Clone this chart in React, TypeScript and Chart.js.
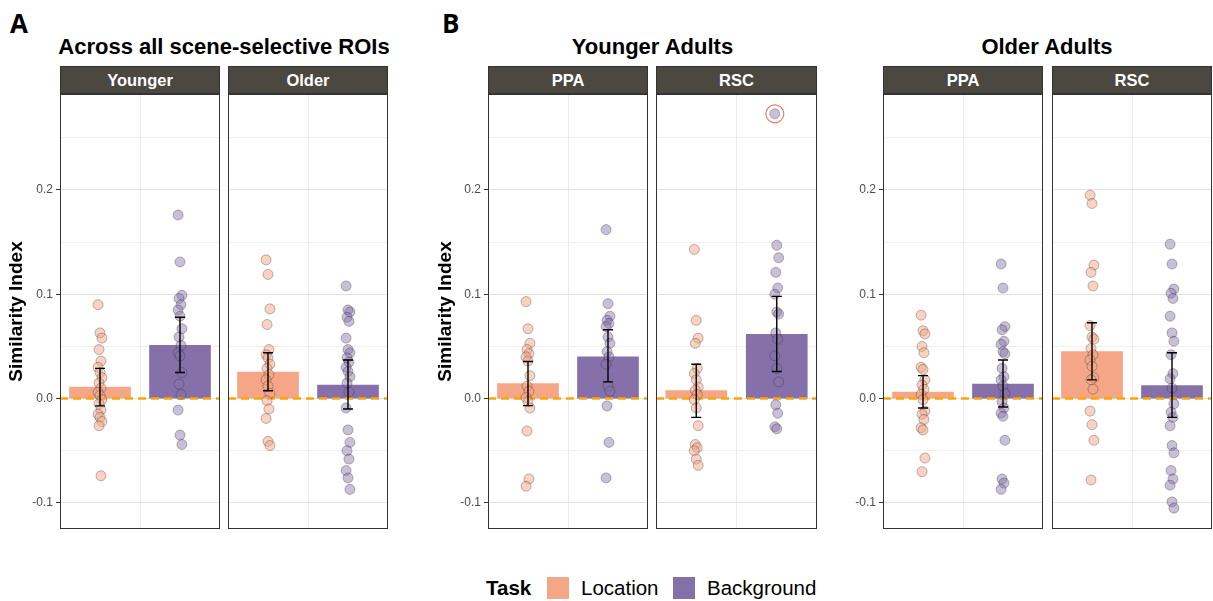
import React, { useEffect, useRef } from "react";
import { Chart, registerables } from "chart.js";

Chart.register(...registerables);

// ---------------- DATA ----------------
const TASKS = ["Location", "Background"];
const LEGEND_TITLE = "Task";
const Y_AXIS_TITLE = "Similarity Index";
const GROUP_TITLES = ["Across all scene-selective ROIs", "Younger Adults", "Older Adults"];
const PANEL_LETTERS = ["A", "B"];
const PANEL_LABELS = ["Younger", "Older", "PPA", "RSC", "PPA", "RSC"];

const Y_GRID_VALUES = [-0.1, -0.05, 0, 0.05, 0.1, 0.15, 0.2, 0.25];
const Y_TICK_LABELS = [-0.1, 0, 0.1, 0.2];

// bar means per panel
const MEAN_LOC = [0.011, 0.0254, 0.0143, 0.0076, 0.0063, 0.045];
const MEAN_BG = [0.051, 0.013, 0.040, 0.0616, 0.014, 0.0124];
// error bar bounds per panel
const LOC_LOW = [-0.007, 0.0076, -0.0067, -0.018, -0.009, 0.018];
const LOC_HIGH = [0.029, 0.044, 0.0356, 0.033, 0.022, 0.0727];
const BG_LOW = [0.025, -0.010, 0.016, 0.026, -0.008, -0.018];
const BG_HIGH = [0.078, 0.037, 0.066, 0.098, 0.037, 0.044];

// individual participants
const A_YOUNG_LOC = [0.090, 0.063, 0.058, 0.047, 0.036, 0.030, 0.025, 0.020, 0.015, 0.010, 0.006, 0.003, -0.001, -0.005, -0.011, -0.015, -0.018, -0.022, -0.026, -0.074];
const A_YOUNG_BG = [0.176, 0.131, 0.099, 0.096, 0.090, 0.085, 0.079, 0.067, 0.059, 0.051, 0.044, 0.041, 0.025, 0.014, 0.004, -0.011, -0.035, -0.044];
const A_OLD_LOC = [0.133, 0.119, 0.086, 0.071, 0.047, 0.042, 0.039, 0.033, 0.029, 0.023, 0.018, 0.012, 0.005, -0.002, -0.010, -0.019, -0.041, -0.045];
const A_OLD_BG = [0.108, 0.085, 0.083, 0.078, 0.074, 0.058, 0.047, 0.044, 0.039, 0.035, 0.030, 0.026, 0.021, 0.015, 0.006, -0.009, -0.030, -0.042, -0.050, -0.058, -0.069, -0.076, -0.087];
const YA_PPA_LOC = [0.093, 0.067, 0.053, 0.047, 0.043, 0.040, 0.036, 0.022, 0.012, 0.007, 0.001, -0.003, -0.009, -0.031, -0.077, -0.084];
const YA_PPA_BG = [0.162, 0.091, 0.079, 0.075, 0.072, 0.069, 0.059, 0.053, 0.045, 0.040, 0.033, 0.012, 0.007, -0.007, -0.042, -0.076];
const YA_RSC_LOC = [0.143, 0.075, 0.058, 0.053, 0.029, 0.024, 0.018, 0.011, 0.008, 0.004, -0.001, -0.009, -0.026, -0.044, -0.047, -0.050, -0.058, -0.064];
const YA_RSC_BG = [0.273, 0.147, 0.135, 0.121, 0.106, 0.100, 0.083, 0.081, 0.063, 0.057, 0.041, 0.029, 0.016, -0.006, -0.014, -0.027, -0.029];
const OA_PPA_LOC = [0.080, 0.065, 0.062, 0.050, 0.044, 0.030, 0.028, 0.018, 0.013, 0.009, 0.004, -0.001, -0.012, -0.015, -0.020, -0.028, -0.030, -0.057, -0.070];
const OA_PPA_BG = [0.129, 0.106, 0.069, 0.066, 0.055, 0.052, 0.045, 0.043, 0.029, 0.021, 0.018, 0.012, 0.005, -0.003, -0.009, -0.014, -0.017, -0.040, -0.077, -0.081, -0.087];
const OA_RSC_LOC = [0.195, 0.187, 0.128, 0.121, 0.108, 0.070, 0.059, 0.057, 0.048, 0.042, 0.037, 0.031, 0.020, 0.018, 0.009, -0.012, -0.025, -0.040, -0.078];
const OA_RSC_BG = [0.148, 0.129, 0.105, 0.101, 0.096, 0.079, 0.063, 0.055, 0.042, 0.024, 0.019, 0.010, -0.005, -0.013, -0.018, -0.026, -0.045, -0.052, -0.069, -0.077, -0.083, -0.099, -0.105];

const POINTS_LOC = [A_YOUNG_LOC, A_OLD_LOC, YA_PPA_LOC, YA_RSC_LOC, OA_PPA_LOC, OA_RSC_LOC];
const POINTS_BG = [A_YOUNG_BG, A_OLD_BG, YA_PPA_BG, YA_RSC_BG, OA_PPA_BG, OA_RSC_BG];

// flagged outlier: panel index, task index, point index
const OUTLIER = { panel: 3, task: 1, index: 0 };

// ---------------- STYLE / LAYOUT ----------------
const FONT = "'Liberation Sans', Arial, Helvetica, sans-serif";
const LOC_COLOR = "#F4A686";
const BG_COLOR = "#8570A9";
const LOC_POINT = "rgba(244,166,134,0.5)";
const BG_POINT = "rgba(133,112,169,0.45)";
const POINT_BORDER = "rgba(40,40,40,0.4)";
const STRIP_BG = "#4B4741";

const PLOT_TOP = 94;
const PLOT_H = 435;
const STRIP_TOP = 66;
const STRIP_H = 28;
const Y_MIN = -0.125;
const Y_MAX = 0.292;
const X_MIN = 0.5;
const X_MAX = 2.5;

const PANEL_BOXES = [
  { x: 60, w: 160, axisW: 60, title: true, titlePad: 5.8 },
  { x: 228, w: 160, axisW: 0, title: false, titlePad: 0 },
  { x: 488, w: 160, axisW: 58, title: true, titlePad: 4.6 },
  { x: 656, w: 161, axisW: 0, title: false, titlePad: 0 },
  { x: 883, w: 160, axisW: 58, title: false, titlePad: 0 },
  { x: 1052, w: 160, axisW: 0, title: false, titlePad: 0 },
];

const jitter = (i: number) => (((i * 7) % 5) - 2) * 0.012;

function decoPlugin(p: number) {
  return {
    id: "deco" + p,
    afterDatasetDraw(chart: any, args: any) {
      if (args.index !== 0) return;
      const { ctx, chartArea: a, scales } = chart;
      const y0 = scales.y.getPixelForValue(0);
      ctx.save();
      ctx.strokeStyle = "#FFA500";
      ctx.lineWidth = 2.5;
      ctx.setLineDash([8, 5]);
      ctx.beginPath();
      ctx.moveTo(a.left, y0);
      ctx.lineTo(a.right, y0);
      ctx.stroke();
      ctx.restore();
    },
    afterDatasetsDraw(chart: any) {
      const { ctx, chartArea: a, scales } = chart;
      const lows = [LOC_LOW[p], BG_LOW[p]];
      const highs = [LOC_HIGH[p], BG_HIGH[p]];
      ctx.save();
      ctx.strokeStyle = "#000";
      ctx.lineWidth = 1.4;
      for (let t = 0; t < 2; t++) {
        const x = scales.x.getPixelForValue(t + 1);
        const yl = scales.y.getPixelForValue(lows[t]);
        const yh = scales.y.getPixelForValue(highs[t]);
        ctx.beginPath();
        ctx.moveTo(x, yl);
        ctx.lineTo(x, yh);
        ctx.moveTo(x - 5, yl);
        ctx.lineTo(x + 5, yl);
        ctx.moveTo(x - 5, yh);
        ctx.lineTo(x + 5, yh);
        ctx.stroke();
      }
      ctx.strokeStyle = "#333";
      ctx.lineWidth = 1;
      ctx.strokeRect(a.left + 0.5, a.top + 0.5, a.right - a.left - 1, a.bottom - a.top - 1);
      ctx.restore();
    },
  };
}

function Panel({ p }: { p: number }) {
  const ref = useRef<HTMLCanvasElement | null>(null);
  const box = PANEL_BOXES[p];
  const isLeft = box.axisW > 0;
  useEffect(() => {
    if (!ref.current) return;
    const locPts = POINTS_LOC[p].map((v, i) => ({ x: 1 + jitter(i), y: v }));
    const bgPts = POINTS_BG[p].map((v, i) => ({ x: 2 + jitter(i), y: v }));
    const datasets: any[] = [
      {
        type: "bar",
        data: [
          { x: 1, y: MEAN_LOC[p] },
          { x: 2, y: MEAN_BG[p] },
        ],
        backgroundColor: [LOC_COLOR, BG_COLOR],
        borderWidth: 0,
        barThickness: 61,
        order: 5,
      },
      {
        type: "scatter",
        data: locPts,
        backgroundColor: LOC_POINT,
        borderColor: POINT_BORDER,
        borderWidth: 0.8,
        pointRadius: 5,
        order: 3,
      },
      {
        type: "scatter",
        data: bgPts,
        backgroundColor: BG_POINT,
        borderColor: POINT_BORDER,
        borderWidth: 0.8,
        pointRadius: 5,
        order: 2,
      },
    ];
    if (OUTLIER.panel === p) {
      const src = OUTLIER.task === 0 ? POINTS_LOC[p] : POINTS_BG[p];
      datasets.push({
        type: "scatter",
        data: [{ x: OUTLIER.task + 1 + jitter(OUTLIER.index), y: src[OUTLIER.index] }],
        backgroundColor: "rgba(0,0,0,0)",
        borderColor: "#F07A66",
        borderWidth: 1.2,
        pointRadius: 9,
        order: 1,
      });
    }
    const chart = new Chart(ref.current, {
      type: "scatter",
      data: { datasets },
      plugins: [decoPlugin(p)],
      options: {
        animation: false,
        responsive: true,
        maintainAspectRatio: false,
        devicePixelRatio: 1,
        events: [],
        layout: { padding: 0, autoPadding: false },
        plugins: { legend: { display: false }, tooltip: { enabled: false } },
        scales: {
          x: {
            type: "linear",
            min: X_MIN,
            max: X_MAX,
            offset: false,
            ticks: { display: false },
            grid: { color: "#EBEBEB", drawTicks: false, lineWidth: 1, offset: false },
            border: { display: false },
            afterDataLimits: (s: any) => {
              s.min = X_MIN;
              s.max = X_MAX;
            },
            afterBuildTicks: (s: any) => {
              s.ticks = [{ value: 1.5 }];
              s.min = X_MIN;
              s.max = X_MAX;
            },
            afterFit: (s: any) => {
              s.height = 0;
              s.paddingLeft = 0;
              s.paddingRight = 0;
            },
          },
          y: {
            type: "linear",
            min: Y_MIN,
            max: Y_MAX,
            ticks: {
              display: isLeft,
              padding: 3,
              color: "#4D4D4D",
              font: { family: FONT, size: 12 },
              callback: (v: any) => (Y_TICK_LABELS.includes(v) ? Number(v).toFixed(1) : ""),
            },
            grid: {
              color: (c: any) => (c.tick && Y_TICK_LABELS.includes(c.tick.value) ? "#E2E2E2" : "#EFEFEF"),
              lineWidth: 1,
              drawTicks: isLeft,
              tickLength: 4,
              tickColor: (c: any) => (c.tick && Y_TICK_LABELS.includes(c.tick.value) ? "#333" : "rgba(0,0,0,0)"),
            },
            border: { display: false },
            title: {
              display: box.title,
              text: Y_AXIS_TITLE,
              color: "#000",
              font: { family: FONT, size: 19, weight: "bold" },
              padding: { top: box.titlePad, bottom: 0 },
            },
            afterBuildTicks: (s: any) => {
              s.ticks = Y_GRID_VALUES.map((v) => ({ value: v }));
            },
            afterFit: (s: any) => {
              s.width = box.axisW;
              s.paddingTop = 0;
              s.paddingBottom = 0;
            },
          },
        },
      } as any,
    });
    return () => chart.destroy();
  }, [p]);

  return (
    <div
      style={{
        position: "absolute",
        left: box.x - box.axisW,
        top: PLOT_TOP,
        width: box.w + box.axisW,
        height: PLOT_H,
      }}
    >
      <canvas ref={ref} />
    </div>
  );
}

const textStyle = (extra: any) => ({
  position: "absolute" as const,
  whiteSpace: "nowrap" as const,
  fontFamily: FONT,
  color: "#000",
  ...extra,
});

export default function App() {
  const groupCenters = [224, 652.5, 1047];
  return (
    <div style={{ position: "absolute", left: 0, top: 0, width: 1213, height: 601, background: "#fff", overflow: "hidden" }}>
      <div style={textStyle({ left: 10, top: 5, fontFamily: "'Open Sans', sans-serif", fontWeight: 700, fontSize: 26, lineHeight: "36px" })}>
        {PANEL_LETTERS[0]}
      </div>
      <div style={textStyle({ left: 442, top: 5, fontFamily: "'Open Sans', sans-serif", fontWeight: 700, fontSize: 26, lineHeight: "36px" })}>
        {PANEL_LETTERS[1]}
      </div>
      {GROUP_TITLES.map((t, i) => (
        <div
          key={t}
          style={textStyle({
            left: groupCenters[i] - 200,
            width: 400,
            textAlign: "center",
            top: 33,
            fontWeight: 700,
            fontSize: 22,
            lineHeight: "28px",
          })}
        >
          {t}
        </div>
      ))}
      {PANEL_BOXES.map((b, p) => (
        <div
          key={"strip" + p}
          style={{
            position: "absolute",
            left: b.x,
            top: STRIP_TOP,
            width: b.w,
            height: STRIP_H,
            boxSizing: "border-box",
            background: STRIP_BG,
            border: "1px solid #333",
            color: "#fff",
            fontFamily: FONT,
            fontWeight: 700,
            fontSize: 16.5,
            display: "flex",
            alignItems: "center",
            justifyContent: "center",
          }}
        >
          {PANEL_LABELS[p]}
        </div>
      ))}
      {PANEL_BOXES.map((_, p) => (
        <Panel key={"panel" + p} p={p} />
      ))}
      <div style={textStyle({ left: 486, top: 576, fontWeight: 700, fontSize: 20.5, lineHeight: "24px" })}>{LEGEND_TITLE}</div>
      <div style={{ position: "absolute", left: 547, top: 577, width: 22, height: 22, background: LOC_COLOR }} />
      <div style={textStyle({ left: 581, top: 576, fontSize: 20.5, lineHeight: "24px" })}>{TASKS[0]}</div>
      <div style={{ position: "absolute", left: 673, top: 577, width: 22, height: 22, background: BG_COLOR }} />
      <div style={textStyle({ left: 707, top: 576, fontSize: 20.5, lineHeight: "24px" })}>{TASKS[1]}</div>
    </div>
  );
}
